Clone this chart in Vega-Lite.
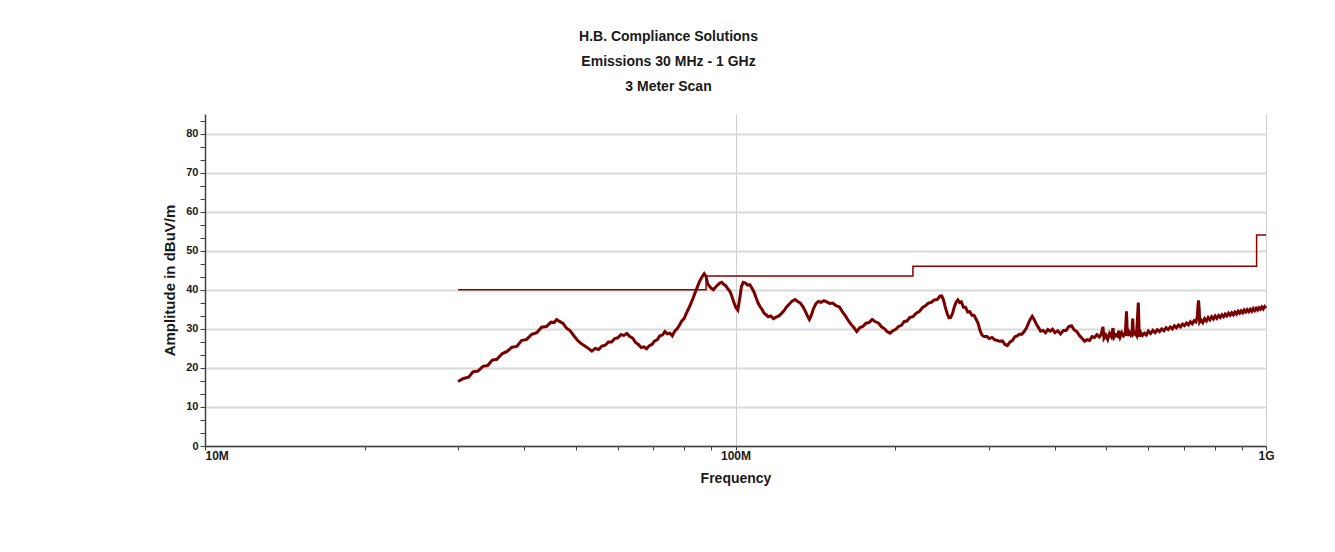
{
  "$schema": "https://vega.github.io/schema/vega-lite/v6.json",
  "width": 1061,
  "height": 332,
  "autosize": {"type": "none"},
  "padding": {"left": 205, "top": 114, "right": 69, "bottom": 106},
  "background": "white",
  "config": {"view": {"stroke": null}, "font": "Liberation Sans"},
  "title": {
    "text": ["H.B. Compliance Solutions", "Emissions 30 MHz - 1 GHz", "3 Meter Scan"],
    "font": "Liberation Sans",
    "fontSize": 14,
    "fontWeight": "bold",
    "color": "#1a1a1a",
    "lineHeight": 25,
    "anchor": "middle",
    "dx": -67,
    "offset": 20
  },
  "datasets": {
    "scan": [
      {"f": 30, "v": 16.5}, {"f": 30.7, "v": 17.3}, {"f": 31.4, "v": 17.6}, {"f": 32, "v": 19.0},
      {"f": 32.7, "v": 19.2}, {"f": 33.4, "v": 20.4}, {"f": 34.1, "v": 20.6}, {"f": 34.8, "v": 22.0},
      {"f": 35.5, "v": 22.2}, {"f": 36.3, "v": 23.6}, {"f": 37.1, "v": 24.2}, {"f": 37.9, "v": 25.3},
      {"f": 38.7, "v": 25.5}, {"f": 39.5, "v": 27.0}, {"f": 40.4, "v": 27.3}, {"f": 41.3, "v": 28.6},
      {"f": 42.2, "v": 29.0}, {"f": 43.1, "v": 30.4}, {"f": 44, "v": 30.6}, {"f": 44.9, "v": 31.7},
      {"f": 45.5, "v": 31.6}, {"f": 46.0, "v": 32.4}, {"f": 46.6, "v": 31.9}, {"f": 47.3, "v": 31.4},
      {"f": 48, "v": 30.2}, {"f": 48.8, "v": 29.5}, {"f": 49.6, "v": 28.2}, {"f": 50.4, "v": 27.0},
      {"f": 51.2, "v": 26.2}, {"f": 52, "v": 25.6}, {"f": 52.8, "v": 25.0}, {"f": 53.6, "v": 24.3},
      {"f": 54.4, "v": 25.0}, {"f": 55.2, "v": 24.7}, {"f": 56, "v": 25.6}, {"f": 56.8, "v": 25.8},
      {"f": 57.6, "v": 26.6}, {"f": 58.4, "v": 26.6}, {"f": 59.2, "v": 27.5}, {"f": 60, "v": 27.7},
      {"f": 60.8, "v": 28.5}, {"f": 61.6, "v": 28.3}, {"f": 62.4, "v": 28.8}, {"f": 63.2, "v": 28.0},
      {"f": 64, "v": 27.6}, {"f": 64.8, "v": 26.5}, {"f": 65.6, "v": 26.0}, {"f": 66.4, "v": 25.2},
      {"f": 67.2, "v": 25.4}, {"f": 68, "v": 24.9}, {"f": 68.8, "v": 25.7}, {"f": 69.6, "v": 26.0},
      {"f": 70.4, "v": 26.9}, {"f": 71.2, "v": 27.2}, {"f": 72, "v": 28.2}, {"f": 72.8, "v": 28.4},
      {"f": 73.6, "v": 29.3}, {"f": 74.4, "v": 28.7}, {"f": 75.2, "v": 28.9}, {"f": 76, "v": 28.2},
      {"f": 76.8, "v": 29.4}, {"f": 77.6, "v": 30.0}, {"f": 78.4, "v": 30.9}, {"f": 79.2, "v": 32.0},
      {"f": 80, "v": 32.6}, {"f": 80.8, "v": 34.0}, {"f": 81.6, "v": 35.2}, {"f": 82.4, "v": 36.5},
      {"f": 83.2, "v": 37.9}, {"f": 84, "v": 39.4}, {"f": 84.8, "v": 40.8}, {"f": 85.6, "v": 42.2},
      {"f": 86.4, "v": 43.2}, {"f": 87.3, "v": 44.1}, {"f": 88, "v": 43.4}, {"f": 88.6, "v": 41.6},
      {"f": 89.3, "v": 40.9}, {"f": 90, "v": 40.4}, {"f": 90.8, "v": 40.0}, {"f": 91.6, "v": 40.6},
      {"f": 92.5, "v": 41.2}, {"f": 93.4, "v": 41.7}, {"f": 94.2, "v": 41.9}, {"f": 95, "v": 41.4},
      {"f": 95.9, "v": 41.0}, {"f": 96.8, "v": 40.2}, {"f": 97.6, "v": 39.6}, {"f": 98.5, "v": 38.2},
      {"f": 99.4, "v": 36.6}, {"f": 100.2, "v": 35.4}, {"f": 101, "v": 34.8}, {"f": 101.8, "v": 37.6},
      {"f": 102.6, "v": 40.8}, {"f": 103.4, "v": 41.9}, {"f": 104.4, "v": 41.7}, {"f": 105.4, "v": 41.2},
      {"f": 106.4, "v": 41.3}, {"f": 107.3, "v": 40.5}, {"f": 108.3, "v": 39.5}, {"f": 109.3, "v": 38.0},
      {"f": 110.3, "v": 36.6}, {"f": 111.2, "v": 35.7}, {"f": 112.2, "v": 35.0}, {"f": 113.2, "v": 34.0},
      {"f": 114.2, "v": 33.6}, {"f": 115.3, "v": 33.1}, {"f": 116.5, "v": 33.3}, {"f": 117.9, "v": 32.6},
      {"f": 119.3, "v": 33.0}, {"f": 120.7, "v": 33.3}, {"f": 122, "v": 33.9}, {"f": 123.4, "v": 34.6},
      {"f": 124.8, "v": 35.6}, {"f": 126.2, "v": 36.3}, {"f": 127.8, "v": 37.1}, {"f": 129.5, "v": 37.5},
      {"f": 131, "v": 37.0}, {"f": 132.5, "v": 36.6}, {"f": 134, "v": 35.7}, {"f": 135.5, "v": 34.4},
      {"f": 137, "v": 33.0}, {"f": 137.8, "v": 32.4}, {"f": 139, "v": 33.5}, {"f": 140.3, "v": 35.2},
      {"f": 141.7, "v": 36.4}, {"f": 143.3, "v": 37.0}, {"f": 145, "v": 36.8}, {"f": 146.8, "v": 37.2},
      {"f": 148.6, "v": 36.9}, {"f": 150.5, "v": 36.5}, {"f": 152.5, "v": 36.6}, {"f": 154.7, "v": 35.9},
      {"f": 157, "v": 35.6}, {"f": 159, "v": 34.4}, {"f": 161, "v": 33.4}, {"f": 163, "v": 32.2},
      {"f": 165, "v": 31.2}, {"f": 167, "v": 30.4}, {"f": 169.3, "v": 29.3}, {"f": 171.5, "v": 30.3},
      {"f": 173.7, "v": 30.6}, {"f": 176, "v": 31.4}, {"f": 178.5, "v": 31.6}, {"f": 181, "v": 32.4},
      {"f": 183.5, "v": 31.8}, {"f": 186, "v": 31.5}, {"f": 188.5, "v": 30.5}, {"f": 191, "v": 30.0},
      {"f": 193, "v": 29.3}, {"f": 195.5, "v": 28.9}, {"f": 198, "v": 29.5}, {"f": 200.5, "v": 29.9},
      {"f": 203, "v": 30.6}, {"f": 205.5, "v": 30.9}, {"f": 208, "v": 31.9}, {"f": 210.5, "v": 32.0},
      {"f": 213, "v": 32.9}, {"f": 216, "v": 33.1}, {"f": 219, "v": 34.0}, {"f": 222, "v": 34.4},
      {"f": 225, "v": 35.4}, {"f": 228, "v": 35.9}, {"f": 231, "v": 36.6}, {"f": 234, "v": 36.8},
      {"f": 237, "v": 37.4}, {"f": 240, "v": 37.5}, {"f": 243, "v": 38.4}, {"f": 244.8, "v": 38.4},
      {"f": 246.5, "v": 37.5}, {"f": 248.5, "v": 35.6}, {"f": 250.5, "v": 34.0}, {"f": 252.5, "v": 32.8},
      {"f": 254.5, "v": 32.9}, {"f": 256.5, "v": 33.9}, {"f": 258.5, "v": 35.6}, {"f": 260.5, "v": 36.8},
      {"f": 262.5, "v": 37.4}, {"f": 264.5, "v": 36.7}, {"f": 266.5, "v": 36.9}, {"f": 269, "v": 35.5},
      {"f": 271.5, "v": 35.5}, {"f": 274, "v": 34.3}, {"f": 276.5, "v": 34.4}, {"f": 279, "v": 33.5},
      {"f": 281.5, "v": 33.5}, {"f": 284, "v": 32.5}, {"f": 286.5, "v": 31.5}, {"f": 289, "v": 29.6},
      {"f": 291.5, "v": 28.4}, {"f": 294.5, "v": 28.0}, {"f": 297.5, "v": 28.1}, {"f": 301, "v": 27.5},
      {"f": 304.5, "v": 27.8}, {"f": 308, "v": 27.2}, {"f": 311.5, "v": 27.0}, {"f": 315, "v": 26.8},
      {"f": 318.5, "v": 26.9}, {"f": 322, "v": 26.0}, {"f": 325.5, "v": 25.7}, {"f": 329, "v": 26.6},
      {"f": 332.5, "v": 27.0}, {"f": 336, "v": 27.9}, {"f": 339.5, "v": 28.2}, {"f": 343, "v": 28.6},
      {"f": 346.5, "v": 28.6}, {"f": 350, "v": 29.3}, {"f": 353.5, "v": 30.2}, {"f": 357, "v": 31.6},
      {"f": 360, "v": 32.6}, {"f": 362.5, "v": 33.2}, {"f": 365.5, "v": 32.4}, {"f": 369, "v": 31.2},
      {"f": 372.5, "v": 30.3}, {"f": 376, "v": 29.4}, {"f": 380, "v": 29.6}, {"f": 384, "v": 29.0},
      {"f": 388, "v": 29.8}, {"f": 392, "v": 29.4}, {"f": 396, "v": 29.9}, {"f": 400, "v": 29.0},
      {"f": 405, "v": 29.5}, {"f": 410, "v": 28.7}, {"f": 415, "v": 29.6}, {"f": 420, "v": 29.6},
      {"f": 425, "v": 30.6}, {"f": 430, "v": 30.8}, {"f": 435, "v": 29.7}, {"f": 440, "v": 29.3},
      {"f": 445, "v": 28.3}, {"f": 450, "v": 27.6}, {"f": 455, "v": 26.8}, {"f": 460, "v": 27.2},
      {"f": 465, "v": 27.0}, {"f": 470, "v": 28.0}, {"f": 475, "v": 27.8}, {"f": 480, "v": 28.5},
      {"f": 485, "v": 27.9}, {"f": 489, "v": 28.6}, {"f": 492.8, "v": 30.5}, {"f": 495, "v": 27.6},
      {"f": 499, "v": 28.4}, {"f": 503, "v": 27.3}, {"f": 507, "v": 28.8}, {"f": 511, "v": 28.0},
      {"f": 514.7, "v": 30.2}, {"f": 517, "v": 27.8}, {"f": 521, "v": 28.5}, {"f": 525, "v": 28.1},
      {"f": 528, "v": 29.5}, {"f": 531, "v": 27.9}, {"f": 535, "v": 29.0}, {"f": 539, "v": 28.2},
      {"f": 543, "v": 28.7}, {"f": 545.8, "v": 34.5}, {"f": 548, "v": 28.2}, {"f": 552, "v": 29.2},
      {"f": 556, "v": 28.4}, {"f": 559, "v": 29.0}, {"f": 560.7, "v": 32.6}, {"f": 562.5, "v": 28.6},
      {"f": 566, "v": 29.0}, {"f": 570, "v": 28.3}, {"f": 574.5, "v": 36.7}, {"f": 577, "v": 28.0},
      {"f": 581, "v": 29.0}, {"f": 585, "v": 28.3}, {"f": 590, "v": 28.9}, {"f": 595, "v": 28.4},
      {"f": 600, "v": 29.4}, {"f": 606, "v": 28.8}, {"f": 612, "v": 29.6}, {"f": 618, "v": 29.0},
      {"f": 624, "v": 29.8}, {"f": 630, "v": 29.3}, {"f": 636, "v": 30.0}, {"f": 642, "v": 29.5},
      {"f": 648, "v": 30.3}, {"f": 654, "v": 29.8}, {"f": 660, "v": 30.5}, {"f": 666, "v": 30.0},
      {"f": 672, "v": 30.8}, {"f": 678, "v": 30.3}, {"f": 684, "v": 31.0}, {"f": 690, "v": 30.5},
      {"f": 696, "v": 31.2}, {"f": 702, "v": 30.8}, {"f": 708, "v": 31.5}, {"f": 714, "v": 31.0},
      {"f": 720, "v": 31.8}, {"f": 726, "v": 31.3}, {"f": 732, "v": 32.1}, {"f": 738, "v": 31.8},
      {"f": 742, "v": 33.0}, {"f": 744.5, "v": 36.0}, {"f": 746.1, "v": 37.3}, {"f": 748, "v": 35.5},
      {"f": 750, "v": 31.8}, {"f": 754, "v": 32.3}, {"f": 760, "v": 31.6}, {"f": 766, "v": 32.6},
      {"f": 772, "v": 32.0}, {"f": 778, "v": 32.9}, {"f": 784, "v": 32.3}, {"f": 790, "v": 33.1},
      {"f": 796, "v": 32.5}, {"f": 802, "v": 33.3}, {"f": 808, "v": 32.7}, {"f": 814, "v": 33.4},
      {"f": 820, "v": 32.9}, {"f": 826, "v": 33.6}, {"f": 832, "v": 33.1}, {"f": 838, "v": 33.8},
      {"f": 844, "v": 33.3}, {"f": 850, "v": 34.0}, {"f": 856, "v": 33.5}, {"f": 862, "v": 34.1},
      {"f": 868, "v": 33.6}, {"f": 874, "v": 34.3}, {"f": 880, "v": 33.8}, {"f": 886, "v": 34.5},
      {"f": 892, "v": 34.0}, {"f": 898, "v": 34.6}, {"f": 904, "v": 34.1}, {"f": 910, "v": 34.8},
      {"f": 916, "v": 34.3}, {"f": 922, "v": 34.9}, {"f": 928, "v": 34.4}, {"f": 934, "v": 35.0},
      {"f": 940, "v": 34.5}, {"f": 946, "v": 35.2}, {"f": 952, "v": 34.7}, {"f": 958, "v": 35.3},
      {"f": 964, "v": 34.8}, {"f": 970, "v": 35.4}, {"f": 976, "v": 35.0}, {"f": 982, "v": 35.6},
      {"f": 988, "v": 35.1}, {"f": 994, "v": 35.7}, {"f": 1000, "v": 35.3}
    ],
    "limit": [
      {"f": 30, "v": 40}, {"f": 88, "v": 43.5}, {"f": 216, "v": 46}, {"f": 960, "v": 54}, {"f": 1000, "v": 54}
    ]
  },
  "encoding": {
    "x": {
      "field": "f",
      "type": "quantitative",
      "scale": {"type": "log", "domain": [10, 1000], "nice": false},
      "axis": {
        "values": [10, 20, 30, 40, 50, 60, 70, 80, 90, 100, 200, 300, 400, 500, 600, 700, 800, 900, 1000],
        "labelExpr": "datum.value == 10 ? '10M' : datum.value == 100 ? '100M' : datum.value == 1000 ? '1G' : ''",
        "labelAlign": {"condition": {"test": "datum.value == 10", "value": "left"}, "value": "center"},
        "labelFont": "Liberation Sans",
        "labelFontSize": 12,
        "labelFontWeight": "bold",
        "labelColor": "#1a1a1a",
        "labelPadding": 0,
        "labelOverlap": false,
        "grid": true,
        "gridColor": {"condition": {"test": "datum.value == 100 || datum.value == 1000", "value": "#cfcfcf"}, "value": "transparent"},
        "gridWidth": 1,
        "domainColor": "#404040",
        "domainWidth": 1.5,
        "tickColor": "#404040",
        "tickSize": 4,
        "title": "Frequency",
        "titleFont": "Liberation Sans",
        "titleFontSize": 14,
        "titleFontWeight": "bold",
        "titleColor": "#1a1a1a",
        "titlePadding": 10
      }
    },
    "y": {
      "field": "v",
      "type": "quantitative",
      "scale": {"domain": [0, 85], "nice": false},
      "axis": {
        "values": [0, 3.3333, 6.6667, 10, 13.3333, 16.6667, 20, 23.3333, 26.6667, 30, 33.3333, 36.6667, 40, 43.3333, 46.6667, 50, 53.3333, 56.6667, 60, 63.3333, 66.6667, 70, 73.3333, 76.6667, 80, 83.3333],
        "labelExpr": "datum.value % 10 == 0 ? format(datum.value, 'd') : ''",
        "labelFont": "Liberation Sans",
        "labelFontSize": 11,
        "labelFontWeight": "bold",
        "labelColor": "#1a1a1a",
        "labelPadding": 2,
        "labelOverlap": false,
        "grid": true,
        "gridColor": {"condition": {"test": "datum.value % 10 == 0", "value": "#d9d9d9"}, "value": "transparent"},
        "gridWidth": 2,
        "domainColor": "#404040",
        "domainWidth": 1.5,
        "tickColor": "#404040",
        "tickSize": 5,
        "title": "Amplitude in dBuV/m",
        "titleFont": "Liberation Sans",
        "titleFontSize": 15,
        "titleFontWeight": "bold",
        "titleColor": "#1a1a1a",
        "titlePadding": 8
      }
    }
  },
  "layer": [
    {
      "data": {"name": "limit"},
      "mark": {"type": "line", "interpolate": "step-after", "color": "#8b0000", "strokeWidth": 1.5}
    },
    {
      "data": {"name": "scan"},
      "mark": {"type": "line", "color": "#7a0000", "strokeWidth": 3}
    }
  ]
}
